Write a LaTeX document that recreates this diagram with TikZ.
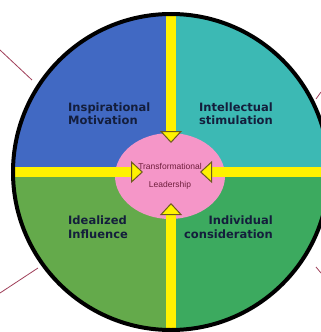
\documentclass[tikz,border=0pt]{standalone}
\usepackage{fontspec}
\setmainfont{Liberation Sans}
\newfontfamily\heavyfont{DejaVu Sans}
\usepackage{xcolor}
\usetikzlibrary{arrows.meta,shapes.geometric}
\definecolor{inspblue}{HTML}{4169C3}
\definecolor{inteteal}{HTML}{3CB9B4}
\definecolor{idealgreen}{HTML}{64AA4B}
\definecolor{indigreen}{HTML}{3CAA5F}
\definecolor{corepink}{HTML}{F596C8}
\definecolor{coreink}{HTML}{6E1E3C}
\definecolor{labelink}{HTML}{141E3C}
\definecolor{tipedge}{HTML}{6B5A1E}
\definecolor{linkred}{HTML}{A0405A}

\begin{document}
\begin{tikzpicture}[x=1pt,y=-1pt,
      quad/.style={font=\heavyfont\bfseries\fontsize{11.5}{13.5}\selectfont,text=labelink,inner sep=0pt},
      core/.style={ellipse,fill=corepink,minimum width=110pt,minimum height=86pt,inner sep=0pt,
            align=center,text=coreink,font=\fontsize{8.5}{18}\selectfont},
      feed/.style={line width=10pt,yellow,-{Triangle[width=22pt,length=12pt,line width=1pt,color=tipedge,fill=yellow]}},
      link/.style={draw=linkred,line width=0.8pt}
]
\useasboundingbox (0,0) rectangle (321,332);
\fill[white] (0,0) rectangle (321,332);

% quadrants of the wheel
\begin{scope}
      \clip (171,172) circle (158);
      \fill[inspblue] (0,0) rectangle (171,172);
      \fill[inteteal] (171,0) rectangle (340,172);
      \fill[idealgreen] (0,172) rectangle (171,340);
      \fill[indigreen] (171,172) rectangle (340,340);
\end{scope}

\node[core] (core) at (170,176) {Transformational\\Leadership};

\coordinate (rimN) at (171,14);
\coordinate (rimS) at (171,330);
\coordinate (rimW) at (13,172);
\coordinate (rimE) at (329,172);
\coordinate (tipN) at (171,143);
\coordinate (tipS) at (171,203);
\coordinate (tipW) at (143,172);
\coordinate (tipE) at (200,172);
\foreach \rim/\tip in {rimN/tipN,rimS/tipS,rimW/tipW,rimE/tipE} {
      \draw[feed] (\rim) -- (\tip);
}

\draw[line width=4pt] (171,172) circle (158);

\node[quad,anchor=west,align=left] (insp) at (68,113.5) {Inspirational\\Motivation};
\node[quad,anchor=east,align=right] (inte) at (273,113.5) {Intellectual\\stimulation};
\node[quad,anchor=west,align=left] (ideal) at (68,227) {Idealized\\Influence};
\node[quad,anchor=east,align=right] (indi) at (273,227) {Individual\\consideration};

% links running off the page
\draw[link] (0,50) -- (32,80);
\draw[link] (38,268) -- (0,293);
\draw[link] (316,99) -- (321,92);
\draw[link] (316,267) -- (321,273);
\end{tikzpicture}
\end{document}
